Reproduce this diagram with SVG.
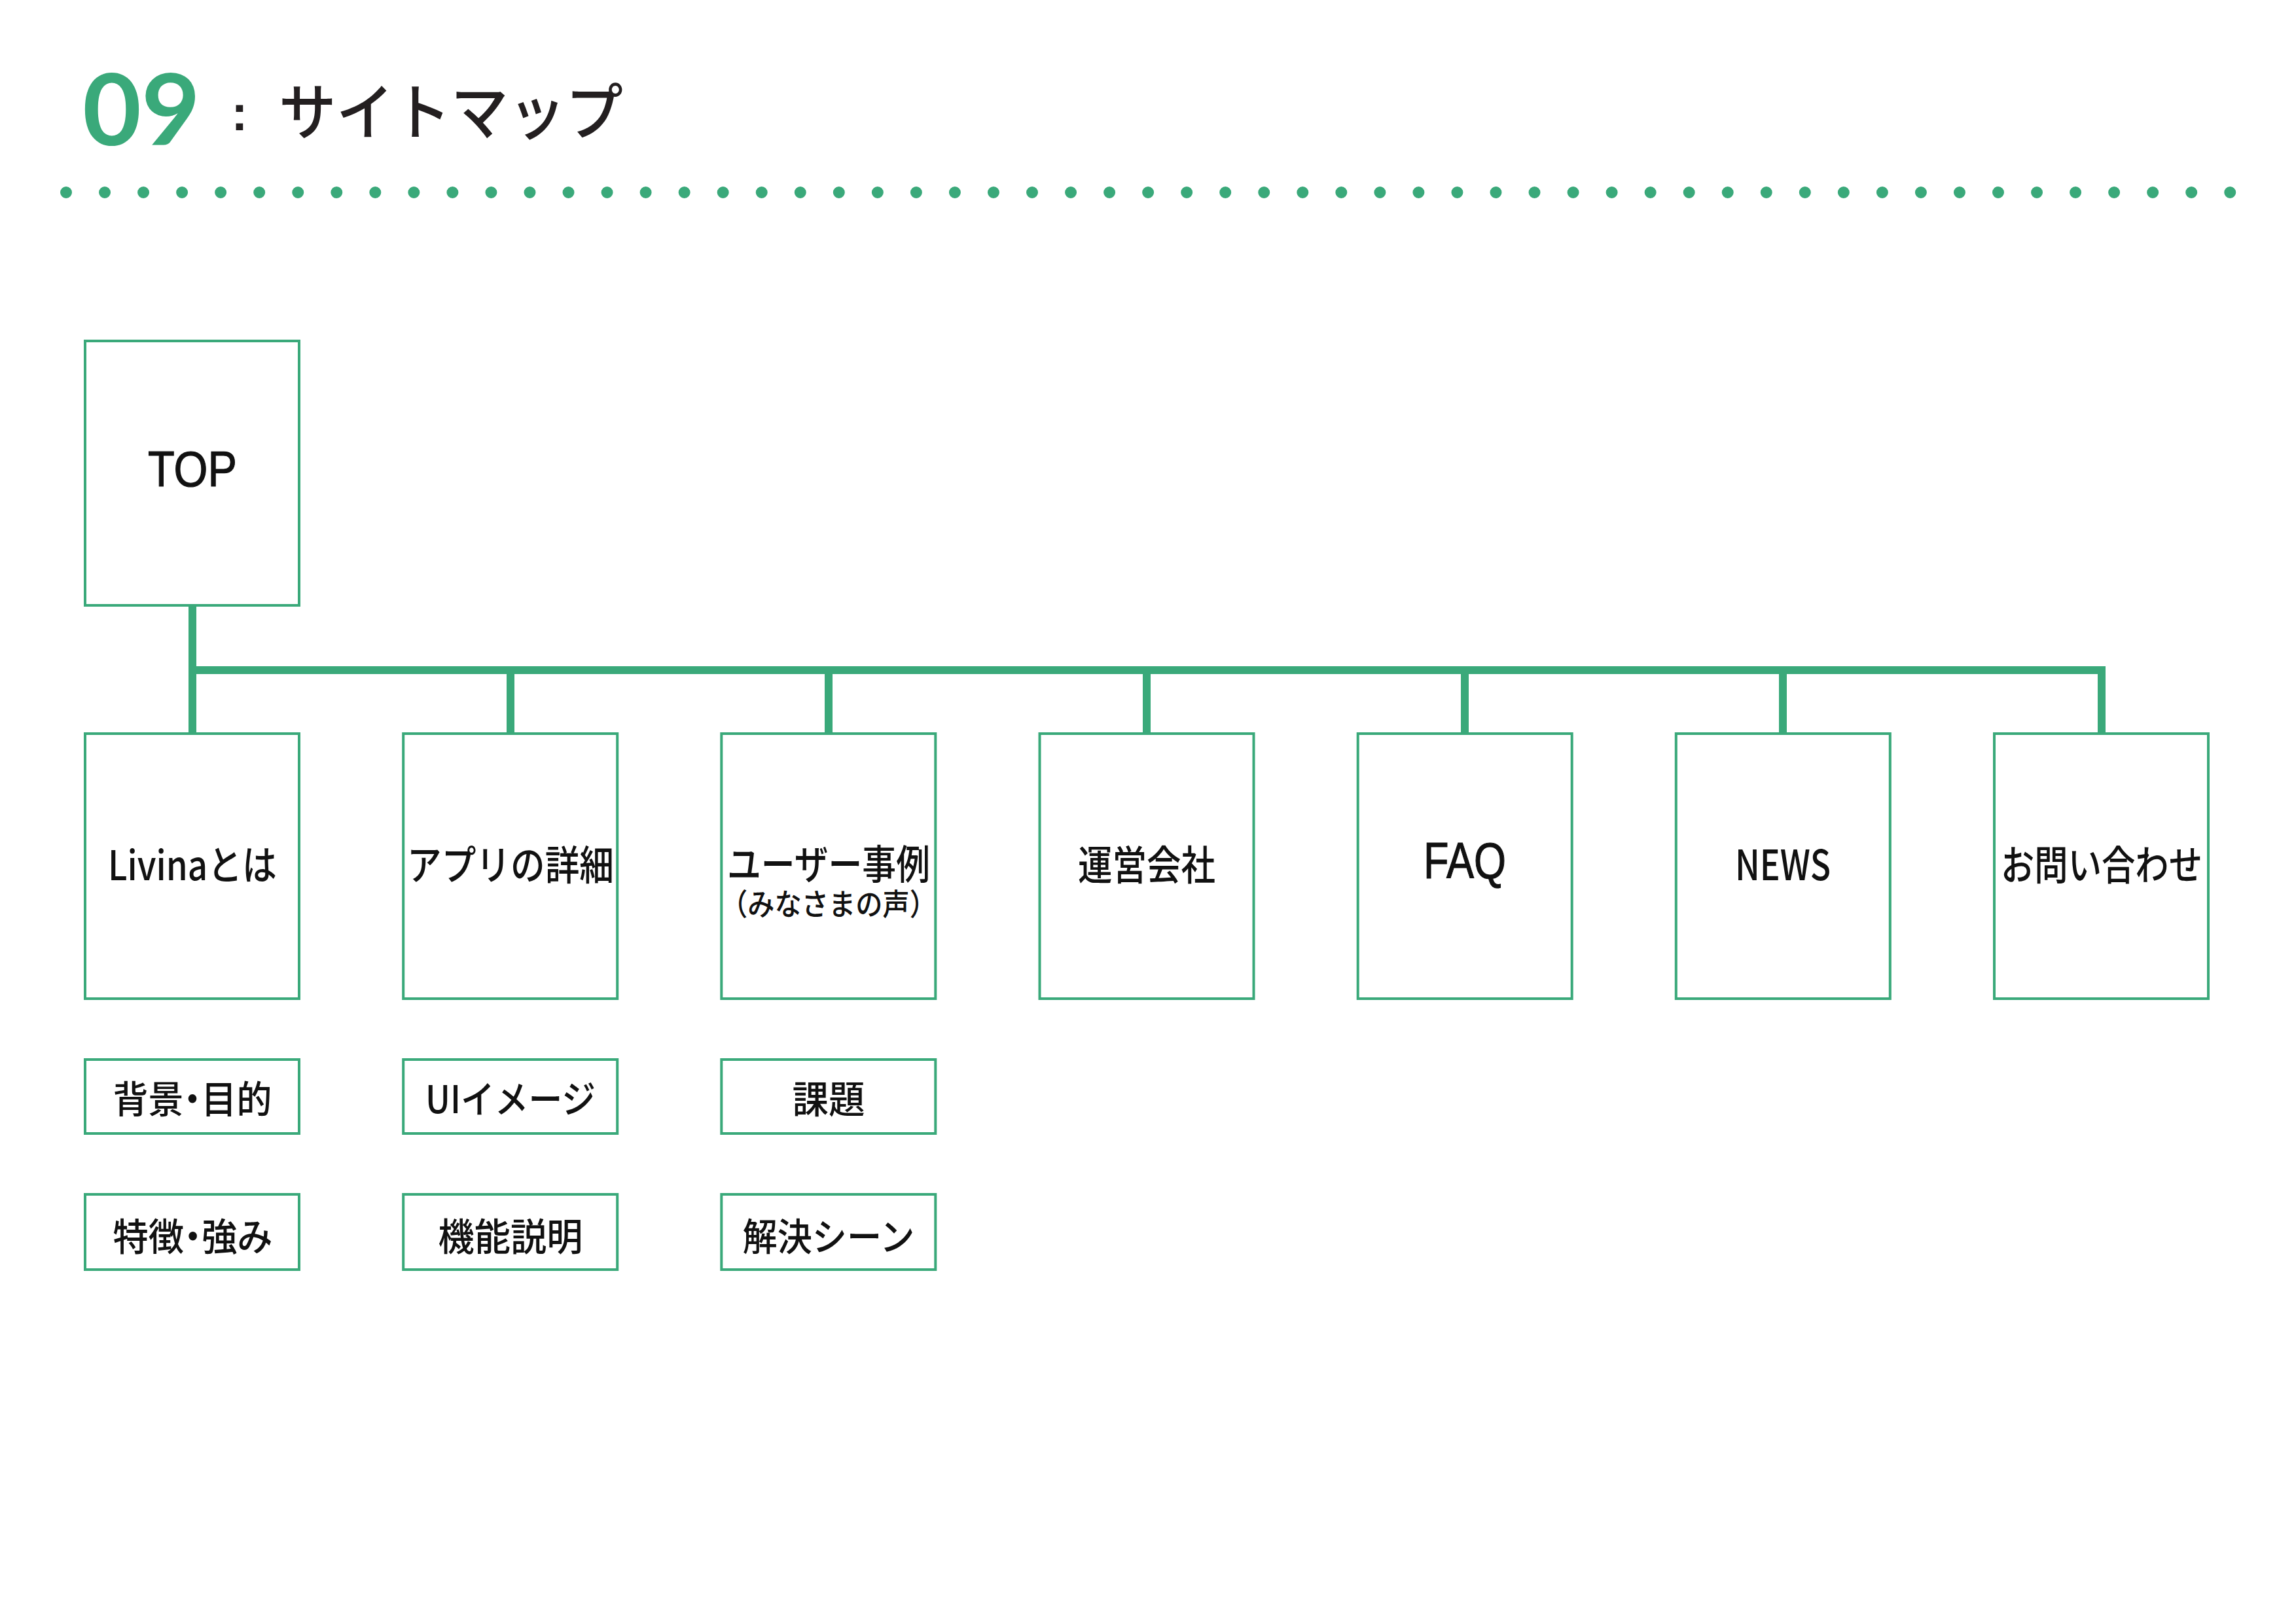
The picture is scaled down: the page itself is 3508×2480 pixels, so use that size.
<svg xmlns="http://www.w3.org/2000/svg" width="3508" height="2480" viewBox="0 0 3508 2480">
  <style>
    .box { fill: #ffffff; stroke: #3aa97a; stroke-width: 4; }
    .conn { fill: none; stroke: #3aa97a; stroke-width: 12; stroke-linecap: butt; stroke-linejoin: miter; }
    .jp { font-family: "Noto Sans CJK JP", "Noto Sans", sans-serif; font-weight: 500; fill: #111111; text-anchor: middle; }
    .lat { font-family: "Liberation Sans", Arial, sans-serif; fill: #111111; text-anchor: middle; }
    .main { font-size: 62px; }
    .sub { font-size: 58px; }
    .tight { font-feature-settings: "palt"; }
  </style>
  <rect width="3508" height="2480" fill="#ffffff"/>

  <g id="title">
    <text x="126" y="222" font-family="Lato, 'Noto Sans', sans-serif" font-weight="700" font-size="152" fill="#3aa97a" textLength="180" lengthAdjust="spacingAndGlyphs">09</text>
    <text x="366" y="199" font-family="'Liberation Sans', Arial, sans-serif" font-weight="700" font-size="76" fill="#231f20" text-anchor="middle">:</text>
    <text x="426" y="206" font-family="'Noto Sans CJK JP', sans-serif" font-weight="500" font-size="94" fill="#231f20" textLength="526" lengthAdjust="spacingAndGlyphs">サイトマップ</text>
  </g>
  <line id="title-dots" x1="101" y1="294" x2="3408" y2="294" stroke="#3aa97a" stroke-width="18" stroke-linecap="round" stroke-dasharray="0 59.04"/>

  <g id="connectors">
    <path class="conn" d="M294 927 V1119"/>
    <path class="conn" d="M294 1024 H3211 V1119"/>
    <path class="conn" d="M780 1024 V1119"/>
    <path class="conn" d="M1266 1024 V1119"/>
    <path class="conn" d="M1752 1024 V1119"/>
    <path class="conn" d="M2238 1024 V1119"/>
    <path class="conn" d="M2724 1024 V1119"/>
  </g>

  <g id="node-top">
    <rect class="box" x="130" y="521" width="327" height="404"/>
    <text class="lat" x="294" y="743" font-size="76" stroke="#111111" stroke-width="1.2" textLength="136" lengthAdjust="spacingAndGlyphs">TOP</text>
  </g>

  <g id="node-livina">
    <rect class="box" x="130" y="1121" width="327" height="405"/>
    <text class="jp main" x="294" y="1345" textLength="258" lengthAdjust="spacingAndGlyphs">Livinaとは</text>
  </g>
  <g id="node-app">
    <rect class="box" x="616.2" y="1121" width="327" height="405"/>
    <text class="jp main" x="780" y="1345" textLength="316" lengthAdjust="spacingAndGlyphs">アプリの詳細</text>
  </g>
  <g id="node-user">
    <rect class="box" x="1102.3" y="1121" width="327" height="405"/>
    <text class="jp main" x="1266" y="1344" textLength="310" lengthAdjust="spacingAndGlyphs">ユーザー事例</text>
    <text class="jp" x="1266" y="1398" font-size="46" textLength="330" lengthAdjust="spacingAndGlyphs">（みなさまの声）</text>
  </g>
  <g id="node-company">
    <rect class="box" x="1588.5" y="1121" width="327" height="405"/>
    <text class="jp main" x="1752" y="1345" textLength="210" lengthAdjust="spacingAndGlyphs">運営会社</text>
  </g>
  <g id="node-faq">
    <rect class="box" x="2074.7" y="1121" width="327" height="405"/>
    <text class="lat" x="2238" y="1342" font-size="78" stroke="#111111" stroke-width="1.2" textLength="126" lengthAdjust="spacingAndGlyphs">FAQ</text>
  </g>
  <g id="node-news">
    <rect class="box" x="2560.8" y="1121" width="327" height="405"/>
    <text class="jp" x="2724" y="1345" font-size="64" textLength="146" lengthAdjust="spacingAndGlyphs">NEWS</text>
  </g>
  <g id="node-contact">
    <rect class="box" x="3047" y="1121" width="327" height="405"/>
    <text class="jp main" x="3211" y="1345" textLength="308" lengthAdjust="spacingAndGlyphs">お問い合わせ</text>
  </g>

  <g id="node-background">
    <rect class="box" x="130" y="1619" width="327" height="113"/>
    <text class="jp sub tight" x="294" y="1701" textLength="243" lengthAdjust="spacingAndGlyphs">背景・目的</text>
  </g>
  <g id="node-features">
    <rect class="box" x="130" y="1825" width="327" height="115"/>
    <text class="jp sub tight" x="294" y="1911" textLength="243" lengthAdjust="spacingAndGlyphs">特徴・強み</text>
  </g>
  <g id="node-ui">
    <rect class="box" x="616.2" y="1619" width="327" height="113"/>
    <text class="jp sub" x="780" y="1701" textLength="260" lengthAdjust="spacingAndGlyphs">UIイメージ</text>
  </g>
  <g id="node-function">
    <rect class="box" x="616.2" y="1825" width="327" height="115"/>
    <text class="jp sub" x="780" y="1911" textLength="221" lengthAdjust="spacingAndGlyphs">機能説明</text>
  </g>
  <g id="node-issue">
    <rect class="box" x="1102.3" y="1619" width="327" height="113"/>
    <text class="jp sub" x="1266" y="1701" textLength="111" lengthAdjust="spacingAndGlyphs">課題</text>
  </g>
  <g id="node-solution">
    <rect class="box" x="1102.3" y="1825" width="327" height="115"/>
    <text class="jp sub" x="1266" y="1911" textLength="263" lengthAdjust="spacingAndGlyphs">解決シーン</text>
  </g>
</svg>
